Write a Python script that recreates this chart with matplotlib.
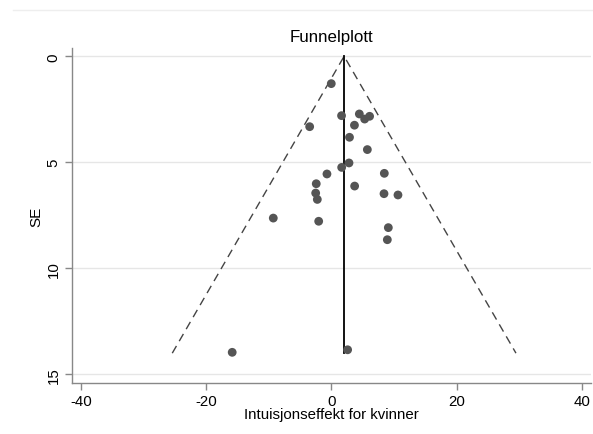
import numpy as np
import matplotlib
matplotlib.use("Agg")
import matplotlib.pyplot as plt
from matplotlib.lines import Line2D

plt.rcParams['font.family'] = ['Liberation Sans', 'DejaVu Sans']

# Data: effect sizes and standard errors
effect = [0.0, 1.64, 4.48, 5.33, 6.12, 3.70, -3.45, 2.91, 5.76, 2.83, 1.66,
          -0.69, 8.47, -2.40, 3.73, -2.49, -2.23, 8.42, 10.65, -9.26, -2.01,
          9.11, 8.95, -15.82, 2.61]
se = [1.29, 2.80, 2.72, 2.96, 2.83, 3.25, 3.32, 3.82, 4.40, 5.03, 5.24,
      5.55, 5.52, 6.01, 6.12, 6.45, 6.75, 6.48, 6.54, 7.63, 7.78,
      8.08, 8.65, 13.96, 13.84]
pooled = 2.05
se_max = 14.0
z = 1.96

xticks = [-40, -20, 0, 20, 40]
yticks = [0, 5, 10, 15]

fig = plt.figure(figsize=(5.93, 4.35), dpi=100)
ax = fig.add_axes([0.1209, 0.1166, 0.9966 - 0.1209, 0.8867 - 0.1166])

# top border line of graph region
fig.add_artist(Line2D([12.7 / 593, 1.0], [1 - 11 / 435, 1 - 11 / 435],
                      color='#eeeeee', lw=1.0, transform=fig.transFigure))

for t in yticks:
    ax.axhline(t, color='#e6e6e6', lw=1.0, zorder=0)

ax.plot([pooled - z * se_max, pooled, pooled + z * se_max], [se_max, 0, se_max],
        color='#444444', lw=1.0, ls=(0, (6, 4)), zorder=2)
ax.plot([pooled, pooled], [0, se_max], color='black', lw=1.3, zorder=3)
ax.scatter(effect, se, s=40, color='#555555', edgecolors='none', zorder=4)

ax.set_xlim(-41.45, 41.47)
ax.set_ylim(15.42, -0.377)
ax.set_xticks(xticks)
ax.set_yticks(yticks)
ax.set_xticklabels([str(t) for t in xticks], fontsize=10.8)
ax.set_yticklabels([str(t) for t in yticks], fontsize=10.8, rotation=90, va='center')

for s in ['top', 'right']:
    ax.spines[s].set_visible(False)
for s in ['left', 'bottom']:
    ax.spines[s].set_color('#888888')
    ax.spines[s].set_linewidth(1.0)
ax.tick_params(axis='both', length=5, color='#888888', width=1.0, pad=3)

ax.set_title('Funnelplott', fontsize=12.2, pad=5.5)
ax.set_xlabel('Intuisjonseffekt for kvinner', fontsize=10.8, labelpad=-1)
ax.set_ylabel('SE', fontsize=11, labelpad=2)

fig.savefig('out.png', dpi=100, facecolor='white')
